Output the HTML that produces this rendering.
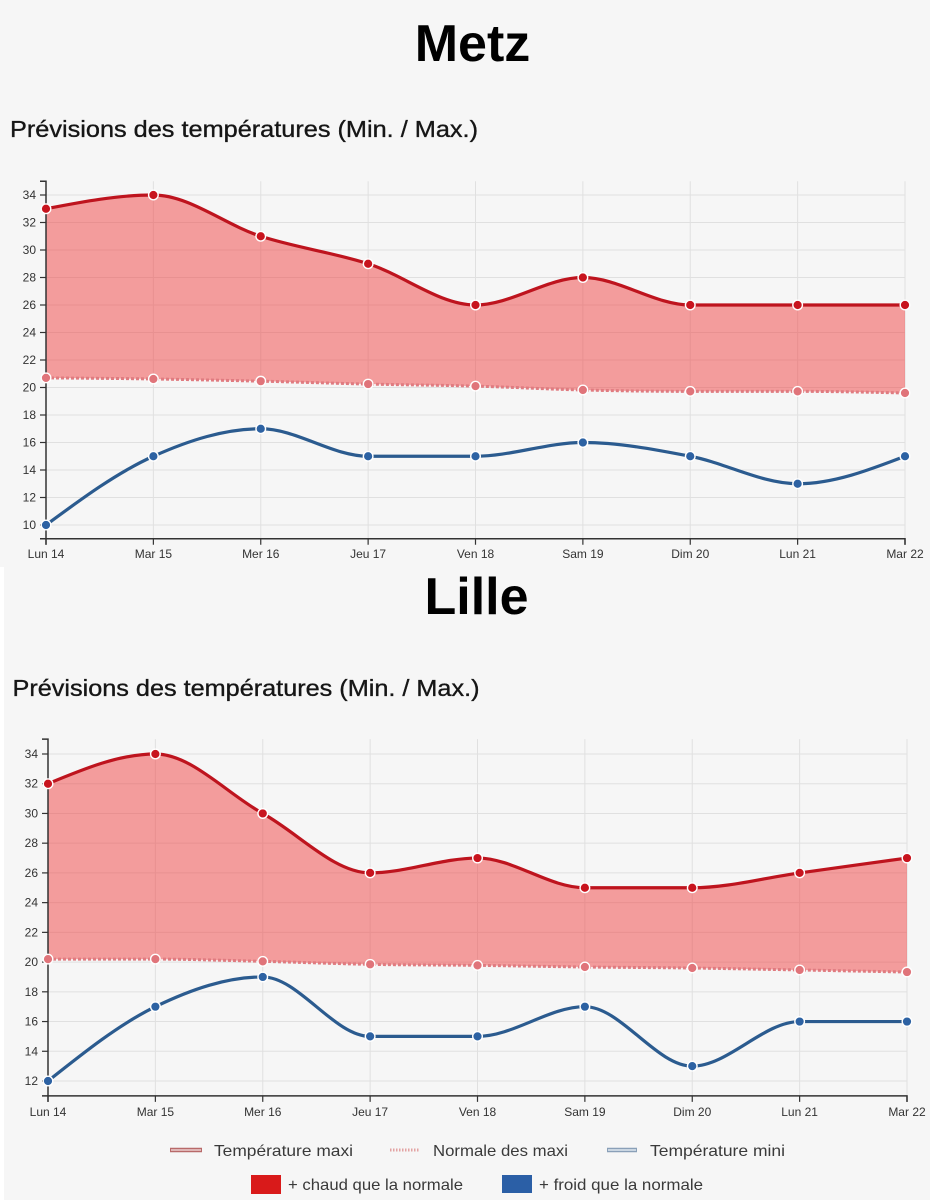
<!DOCTYPE html>
<html>
<head>
<meta charset="utf-8">
<style>
html,body{margin:0;padding:0;background:#f6f6f6;}
svg{display:block;}
text{font-family:"Liberation Sans",Arial,sans-serif;}
.tk{font-size:12px;fill:#333;}
.lg{font-size:16px;fill:#3a3a3a;}
.ttl{font-size:52px;font-weight:bold;fill:#000;}
.sub{font-size:23px;fill:#161616;stroke:#161616;stroke-width:0.35;}
</style>
</head>
<body>
<svg id="s" xmlns="http://www.w3.org/2000/svg" width="930" height="1200" viewBox="0 0 930 1200">
<rect width="930" height="1200" fill="#f6f6f6"/>
<rect x="0" y="567" width="4" height="633" fill="#ffffff"/>

<!-- Titles -->
<text class="ttl" x="472.5" y="61" text-anchor="middle">Metz</text>
<text class="sub" x="10" y="137" textLength="468" lengthAdjust="spacingAndGlyphs">Prévisions des températures (Min. / Max.)</text>
<text class="ttl" x="476.5" y="614" text-anchor="middle">Lille</text>
<text class="sub" x="12.5" y="696" textLength="467" lengthAdjust="spacingAndGlyphs">Prévisions des températures (Min. / Max.)</text>

<g id="metz"></g>
<g id="lille"></g>

<!-- Metz y labels -->
<g class="tk" text-anchor="end">
<text x="36" y="529">10</text>
<text x="36" y="501.5">12</text>
<text x="36" y="474">14</text>
<text x="36" y="446.5">16</text>
<text x="36" y="419">18</text>
<text x="36" y="391.5">20</text>
<text x="36" y="364">22</text>
<text x="36" y="336.5">24</text>
<text x="36" y="309">26</text>
<text x="36" y="281.5">28</text>
<text x="36" y="254">30</text>
<text x="36" y="226.5">32</text>
<text x="36" y="199">34</text>
</g>
<!-- Metz x labels -->
<g class="tk" text-anchor="middle">
<text x="46" y="558">Lun 14</text>
<text x="153.4" y="558">Mar 15</text>
<text x="260.75" y="558">Mer 16</text>
<text x="368.1" y="558">Jeu 17</text>
<text x="475.5" y="558">Ven 18</text>
<text x="582.9" y="558">Sam 19</text>
<text x="690.25" y="558">Dim 20</text>
<text x="797.6" y="558">Lun 21</text>
<text x="905" y="558">Mar 22</text>
</g>

<!-- Lille y labels -->
<g class="tk" text-anchor="end">
<text x="38" y="1085">12</text>
<text x="38" y="1055.3">14</text>
<text x="38" y="1025.5">16</text>
<text x="38" y="995.8">18</text>
<text x="38" y="966.1">20</text>
<text x="38" y="936.4">22</text>
<text x="38" y="906.6">24</text>
<text x="38" y="876.9">26</text>
<text x="38" y="847.2">28</text>
<text x="38" y="817.5">30</text>
<text x="38" y="787.7">32</text>
<text x="38" y="758">34</text>
</g>
<!-- Lille x labels -->
<g class="tk" text-anchor="middle">
<text x="48" y="1116">Lun 14</text>
<text x="155.4" y="1116">Mar 15</text>
<text x="262.75" y="1116">Mer 16</text>
<text x="370.1" y="1116">Jeu 17</text>
<text x="477.5" y="1116">Ven 18</text>
<text x="584.9" y="1116">Sam 19</text>
<text x="692.25" y="1116">Dim 20</text>
<text x="799.6" y="1116">Lun 21</text>
<text x="907" y="1116">Mar 22</text>
</g>

<!-- Legend -->
<line x1="170" y1="1150" x2="202" y2="1150" stroke="#b86a6a" stroke-width="4.5"/>
<line x1="171" y1="1150" x2="201" y2="1150" stroke="#ecd0d0" stroke-width="1.5"/>
<text class="lg" x="214" y="1156" textLength="139" lengthAdjust="spacingAndGlyphs">Température maxi</text>
<line x1="390" y1="1150" x2="420" y2="1150" stroke="#e3a3a3" stroke-width="3" stroke-dasharray="1.5,1.5"/>
<text class="lg" x="433" y="1156" textLength="135" lengthAdjust="spacingAndGlyphs">Normale des maxi</text>
<line x1="607" y1="1150" x2="637" y2="1150" stroke="#8aa0b8" stroke-width="4.5"/>
<line x1="608" y1="1150" x2="636" y2="1150" stroke="#e0e8ef" stroke-width="1.5"/>
<text class="lg" x="650" y="1156" textLength="135" lengthAdjust="spacingAndGlyphs">Température mini</text>

<rect x="251" y="1175" width="30" height="19" fill="#d91a1a"/>
<text class="lg" x="288" y="1190" textLength="175" lengthAdjust="spacingAndGlyphs">+ chaud que la normale</text>
<rect x="502" y="1175" width="30" height="18" fill="#2b5fa6"/>
<text class="lg" x="539" y="1190" textLength="164" lengthAdjust="spacingAndGlyphs">+ froid que la normale</text>
</svg>

<script>
(function(){
const NS='http://www.w3.org/2000/svg';
function el(p,tag,a){const e=document.createElementNS(NS,tag);for(const k in a)e.setAttribute(k,a[k]);p.appendChild(e);return e;}
function sg(x){return x<0?-1:1;}
function segs(P){
  const n=P.length,s=[],t=[];
  for(let i=0;i<n-1;i++)s[i]=(P[i+1][1]-P[i][1])/(P[i+1][0]-P[i][0]);
  for(let i=1;i<n-1;i++){
    const h0=P[i][0]-P[i-1][0],h1=P[i+1][0]-P[i][0];
    const p=(s[i-1]*h1+s[i]*h0)/(h0+h1);
    t[i]=(sg(s[i-1])+sg(s[i]))*Math.min(Math.abs(s[i-1]),Math.abs(s[i]),0.5*Math.abs(p))||0;
  }
  t[0]=(3*s[0]-t[1])/2;
  t[n-1]=(3*s[n-2]-t[n-2])/2;
  const out=[];
  for(let i=0;i<n-1;i++){
    const dx=(P[i+1][0]-P[i][0])/3;
    out.push([P[i],[P[i][0]+dx,P[i][1]+dx*t[i]],[P[i+1][0]-dx,P[i+1][1]-dx*t[i+1]],P[i+1]]);
  }
  return out;
}
function f(p){return p[0].toFixed(2)+','+p[1].toFixed(2);}
function pathOf(S){let d='M'+f(S[0][0]);for(const q of S)d+='C'+f(q[1])+' '+f(q[2])+' '+f(q[3]);return d;}
function chart(g,c){
  const X=i=>c.x0+i*c.step, Y=v=>c.yRef-(v-c.vRef)*c.k;
  for(const v of c.ticks) el(g,'line',{x1:X(0),x2:X(8),y1:Y(v),y2:Y(v),stroke:'#e0e0e0','stroke-width':1});
  for(let i=0;i<9;i++) el(g,'line',{x1:X(i),x2:X(i),y1:Y(c.top),y2:Y(c.bot),stroke:'#e0e0e0','stroke-width':1});
  const mx=c.max.map((v,i)=>[X(i),Y(v)]), nm=c.norm.map((v,i)=>[X(i),Y(v)]), mn=c.min.map((v,i)=>[X(i),Y(v)]);
  const Smx=segs(mx),Snm=segs(nm),Smn=segs(mn);
  let d=pathOf(Smx)+'L'+f(nm[nm.length-1]);
  for(let i=Snm.length-1;i>=0;i--){const q=Snm[i];d+='C'+f(q[2])+' '+f(q[1])+' '+f(q[0]);}
  d+='Z';
  el(g,'path',{d:d,fill:'rgb(240,66,66)','fill-opacity':0.5});
  el(g,'path',{d:pathOf(Snm),fill:'none',stroke:'#e07b80','stroke-width':3,'stroke-dasharray':'3,2'});
  el(g,'path',{d:pathOf(Smx),fill:'none',stroke:'#be141e','stroke-width':3.2});
  el(g,'path',{d:pathOf(Smn),fill:'none',stroke:'#2b5b8f','stroke-width':3.2});
  const yt=Y(c.top),yb=Y(c.bot);
  el(g,'path',{d:'M'+(X(0)-6)+','+yt+'H'+X(0)+'V'+yb+'H'+(X(0)-6),fill:'none',stroke:'#333','stroke-width':1.5});
  for(const v of c.ticks) el(g,'line',{x1:X(0)-6,x2:X(0),y1:Y(v),y2:Y(v),stroke:'#333','stroke-width':1.2});
  el(g,'path',{d:'M'+X(0)+','+(yb+6)+'V'+yb+'H'+X(8)+'V'+(yb+6),fill:'none',stroke:'#333','stroke-width':1.5});
  for(let i=0;i<9;i++) el(g,'line',{x1:X(i),x2:X(i),y1:yb,y2:yb+6,stroke:'#333','stroke-width':1.2});
  for(const p of nm) el(g,'circle',{cx:p[0],cy:p[1],r:4.8,fill:'#e0747a',stroke:'#fff','stroke-width':1.4});
  for(const p of mx) el(g,'circle',{cx:p[0],cy:p[1],r:4.8,fill:'#c8141e',stroke:'#fff','stroke-width':1.4});
  for(const p of mn) el(g,'circle',{cx:p[0],cy:p[1],r:4.8,fill:'#2d62a3',stroke:'#fff','stroke-width':1.4});
}
chart(document.getElementById('metz'),{
  x0:46,step:107.375,yRef:525,vRef:10,k:13.75,top:35,bot:9,
  ticks:[10,12,14,16,18,20,22,24,26,28,30,32,34],
  max:[33,34,31,29,26,28,26,26,26],
  norm:[20.7,20.62,20.46,20.25,20.1,19.82,19.72,19.72,19.6],
  min:[10,15,17,15,15,16,15,13,15]
});
chart(document.getElementById('lille'),{
  x0:48,step:107.375,yRef:1081,vRef:12,k:14.864,top:35,bot:11,
  ticks:[12,14,16,18,20,22,24,26,28,30,32,34],
  max:[32,34,30,26,27,25,25,26,27],
  norm:[20.2,20.2,20.05,19.85,19.78,19.67,19.6,19.47,19.33],
  min:[12,17,19,15,15,17,13,16,16]
});
})();
</script>
</body>
</html>
